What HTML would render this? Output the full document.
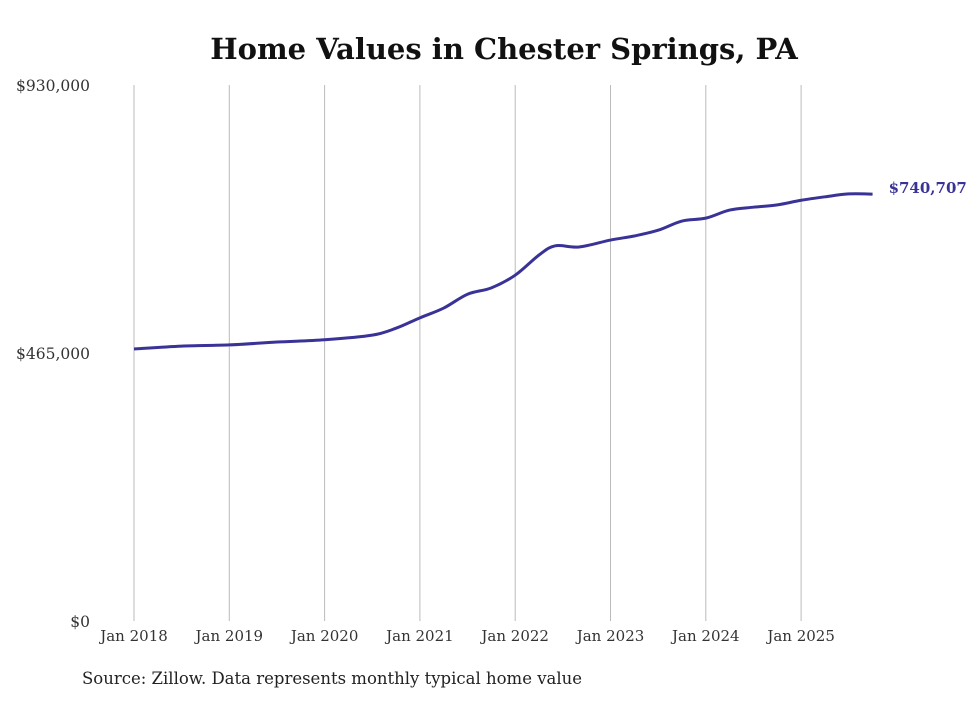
<!DOCTYPE html>
<html><head><meta charset="utf-8"><style>
body{margin:0;background:#fff;width:980px;height:699px;overflow:hidden}
svg{font-family:"DejaVu Serif","Liberation Serif",serif}
</style></head><body>
<svg width="980" height="699">
<text x="504" y="59" text-anchor="middle" font-size="29" font-weight="bold" fill="#111">Home Values in Chester Springs, PA</text>
<g id="grid"></g><g id="yt"></g><g id="xt"></g>
<path id="line" fill="none" stroke="#3a3397" stroke-width="3"/>
<text id="lastlbl" font-size="15" font-weight="bold" fill="#3a3397"></text>
<text x="82" y="684" font-size="16.5" fill="#222">Source: Zillow. Data represents monthly typical home value</text>
</svg>
<script>
const dates=[2018.0,2018.5,2019.0,2019.5,2020.0,2020.5,2020.75,2021.0,2021.25,2021.5,2021.75,2022.0,2022.25,2022.42,2022.67,2023.0,2023.25,2023.5,2023.75,2024.0,2024.25,2024.5,2024.75,2025.0,2025.25,2025.5,2025.75];
const values=[472,477,479,484,488,496,508,526,543,567,578,600,635,651,649,661,668,678,694,699,713,718,722,730,736,741,740.707];
const yTicks=[0,465000,930000];
const yLabels=["$0","$465,000","$930,000"];
const xYears=[2018,2019,2020,2021,2022,2023,2024,2025];
const xs=d=>134+(d-2018)*95.3;
const ys=v=>621-v/930000*536;
const NS="http://www.w3.org/2000/svg";
function mk(t,a,p){const e=document.createElementNS(NS,t);for(const k in a)e.setAttribute(k,a[k]);p.appendChild(e);return e;}
const grid=document.getElementById('grid'),yt=document.getElementById('yt'),xt=document.getElementById('xt');
xYears.forEach(y=>{
 const l=mk('line',{x1:xs(y),x2:xs(y),y1:85,y2:621,stroke:'#bbb','stroke-width':1},grid);
 
 
 const t=mk('text',{x:xs(y),y:641,'text-anchor':'middle','font-size':15,fill:'#333'},xt);
 t.textContent='Jan '+y;
 
 
});
yTicks.forEach((v,i)=>{
 const t=mk('text',{x:90,y:ys(v)+6,'text-anchor':'end','font-size':15.5,fill:'#333'},yt);
 t.textContent=yLabels[i];
 
 
});
const pts=dates.map((d,i)=>[xs(d),ys(values[i]*1000)]);
let d='M'+pts[0][0]+','+pts[0][1];
for(let i=0;i<pts.length-1;i++){
 const p0=pts[Math.max(0,i-1)],p1=pts[i],p2=pts[i+1],p3=pts[Math.min(pts.length-1,i+2)];
 d+=' C'+(p1[0]+(p2[0]-p0[0])/6)+','+(p1[1]+(p2[1]-p0[1])/6)+' '+(p2[0]-(p3[0]-p1[0])/6)+','+(p2[1]-(p3[1]-p1[1])/6)+' '+p2[0]+','+p2[1];
}
document.getElementById('line').setAttribute('d',d);
const last=pts[pts.length-1],ll=document.getElementById('lastlbl');
ll.setAttribute('x',last[0]+16);ll.setAttribute('y',last[1]-1);
ll.textContent='$'+Math.round(values[values.length-1]*1000).toLocaleString('en-US');
</script>
</body></html>
